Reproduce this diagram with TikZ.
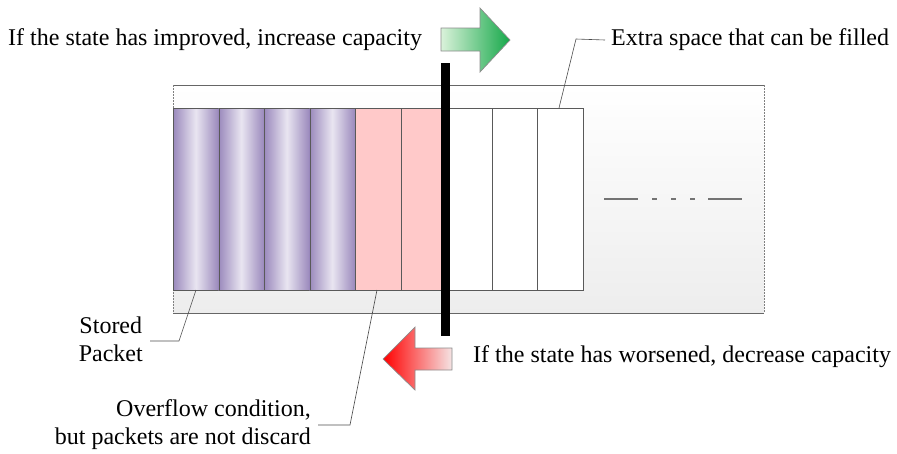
\documentclass[tikz,border=0pt]{standalone}
\usepackage{fontspec}
\setmainfont{Liberation Serif}
\begin{document}
\begin{tikzpicture}[x=1pt,y=-1pt,
  lbl/.style={inner sep=0pt,font=\fontsize{24}{28}\selectfont},
  cellbox/.style={draw=black!65,line width=0.8pt},
  leader/.style={draw=black!70,line width=0.6pt},
  arrowline/.style={draw=black!45,line width=0.7pt}]
\useasboundingbox (0,0) rectangle (897,453);
\definecolor{purpd}{HTML}{9A89BC}
\definecolor{purpl}{HTML}{E9E5F1}
\definecolor{pinkc}{HTML}{FFC9C9}
% container
\shade[top color=white,bottom color=black!7] (173,85) rectangle (764,313);
\draw[black!60,line width=0.8pt] (173,85) -- (764,85);
\draw[black!60,line width=0.8pt] (173,313) -- (764,313);
\draw[black!50,dash pattern=on 1.5pt off 1.5pt,line width=0.8pt] (173,85) -- (173,313);
\draw[black!50,dash pattern=on 1.5pt off 1.5pt,line width=0.8pt] (764,85) -- (764,313);
% cells
\foreach \i/\a/\b in {1/173/218.5,2/218.5/264,3/264/309.5,4/309.5/355}{
  \shade[left color=purpd,right color=purpd,middle color=purpl] (\a,108) rectangle (\b,290);
  \node[cellbox,minimum width=45.5pt,minimum height=182pt,inner sep=0pt,anchor=north west] (p\i) at (\a,108) {};
}
\foreach \i/\a in {1/355,2/400.5}{
  \node[cellbox,fill=pinkc,minimum width=45.5pt,minimum height=182pt,inner sep=0pt,anchor=north west] (r\i) at (\a,108) {};
}
\foreach \i/\a in {1/446,2/491.5,3/537}{
  \node[cellbox,fill=white,minimum width=45.5pt,minimum height=182pt,inner sep=0pt,anchor=north west] (w\i) at (\a,108) {};
}
% dashed continuation
\draw[black!55,line width=1.2pt] (604,199) -- (638,199);
\draw[black!55,line width=1.2pt] (652,199) -- (657,199);
\draw[black!55,line width=1.2pt] (671,199) -- (676,199);
\draw[black!55,line width=1.2pt] (690,199) -- (695,199);
\draw[black!55,line width=1.2pt] (708,199) -- (742,199);
% black bar
\fill[black] (441,63) rectangle (450,336);
% green arrow
\shade[left color=green!10!white!95!black,right color={rgb,255:red,22;green,168;blue,74}] (441,28) -- (480,28) -- (480,8) -- (510,40) -- (480,72) -- (480,51) -- (441,51) -- cycle;
\draw[arrowline] (441,28) -- (480,28) -- (480,8) -- (510,40) -- (480,72) -- (480,51) -- (441,51) -- cycle;
% red arrow
\shade[left color={rgb,255:red,255;green,0;blue,0},right color={rgb,255:red,245;green,228;blue,228}] (383,359) -- (415,327) -- (415,348) -- (452,348) -- (452,370) -- (415,370) -- (415,390) -- cycle;
\draw[arrowline] (383,359) -- (415,327) -- (415,348) -- (452,348) -- (452,370) -- (415,370) -- (415,390) -- cycle;
% labels
\node[lbl,anchor=west] (inc) at (8,40) {If the state has improved, increase capacity};
\node[lbl,anchor=west] (dec) at (473,357) {If the state has worsened, decrease capacity};
\node[lbl,anchor=west] (extra) at (611,40) {Extra space that can be filled};
\node[lbl,align=center,anchor=east] (stored) at (143,339) {Stored\\Packet};
\node[lbl,align=right,anchor=east] (over) at (311,425) {Overflow condition,\\but packets are not discard};
% leaders
\coordinate (e1) at (576,39);
\coordinate (e2) at (559,108);
\draw[leader] (extra.west) ++(-6,0) -- (e1) -- (e2);
\coordinate (s1) at (179,341);
\coordinate (s2) at (196,290);
\draw[leader] (stored.east) ++(7,2) -- (s1) -- (s2);
\coordinate (o1) at (350,425);
\coordinate (o2) at (377,290);
\draw[leader] (over.east) ++(7,0) -- (o1) -- (o2);
\end{tikzpicture}
\end{document}
